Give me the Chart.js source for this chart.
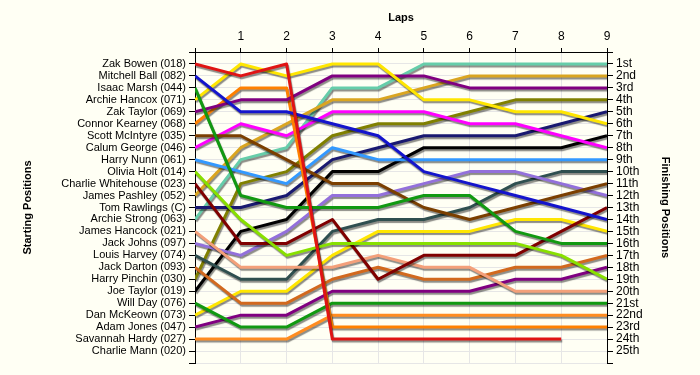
<!DOCTYPE html>
<html>
<head>
<meta charset="utf-8">
<script src="https://cdn.jsdelivr.net/npm/chart.js@4"></script>
<style>
  html, body { margin: 0; padding: 0; background: #FFFFF4; }
  #wrap { width: 700px; height: 375px; }
</style>
</head>
<body>
<div id="wrap"><canvas id="lapChart" width="700" height="375"></canvas></div>
<script>
// Riders in starting order (left axis labels)
const riders = [
    'Zak Bowen (018)', 'Mitchell Ball (082)', 'Isaac Marsh (044)', 'Archie Hancox (071)',
    'Zak Taylor (069)', 'Connor Kearney (068)', 'Scott McIntyre (035)', 'Calum George (046)',
    'Harry Nunn (061)', 'Olivia Holt (014)', 'Charlie Whitehouse (023)', 'James Pashley (052)',
    'Tom Rawlings (C)', 'Archie Strong (063)', 'James Hancock (021)', 'Jack Johns (097)',
    'Louis Harvey (074)', 'Jack Darton (093)', 'Harry Pinchin (030)', 'Joe Taylor (019)',
    'Will Day (076)', 'Dan McKeown (073)', 'Adam Jones (047)', 'Savannah Hardy (027)',
    'Charlie Mann (020)'
];

const finishLabels = [
    '1st', '2nd', '3rd', '4th', '5th', '6th', '7th', '8th', '9th', '10th',
    '11th', '12th', '13th', '14th', '15th', '16th', '17th', '18th', '19th', '20th',
    '21st', '22nd', '23rd', '24th', '25th'
];

const laps = [0, 1, 2, 3, 4, 5, 6, 7, 8, 9];

// position at lap 0..9 for each rider
const zakBowen        = [1, 2, 1, 24, 24, 24, 24, 24, 24, null];
const mitchellBall    = [2, 5, 5, 6, 7, 10, 11, 12, 13, 14];
const isaacMarsh      = [3, 12, 13, 13, 13, 12, 12, 15, 16, 16];
const archieHancox    = [4, 1, 2, 1, 1, 4, 4, 5, 5, 6];
const zakTaylor       = [5, 4, 4, 2, 2, 2, 3, 3, 3, 3];
const connorKearney   = [6, 3, 3, 23, 23, 23, 23, 23, 23, 23];
const scottMcIntyre   = [7, 7, 9, 11, 11, 13, 14, 13, 12, 11];
const calumGeorge     = [8, 6, 7, 5, 5, 5, 6, 6, 7, 8];
const harryNunn       = [9, 10, 11, 8, 9, 9, 9, 9, 9, 9];
const oliviaHolt      = [10, 14, 17, 16, 16, 16, 16, 16, 17, 19];
const charlieWhite    = [11, 16, 16, 14, 19, 17, 17, 17, 15, 13];
const jamesPashley    = [12, 8, 6, 4, 4, 3, 2, 2, 2, 2];
const tomRawlings     = [13, 13, 12, 9, 8, 7, 7, 7, 6, 5];
const archieStrong    = [14, 9, 8, 3, 3, 1, 1, 1, 1, 1];
const jamesHancock    = [15, 18, 18, 18, 17, 18, 18, 20, 20, 20];
const jackJohns       = [16, 17, 15, 12, 12, 11, 10, 10, 11, 12];
const louisHarvey     = [17, 19, 19, 15, 14, 14, 13, 11, 10, 10];
const jackDarton      = [18, 21, 21, 19, 18, 19, 19, 18, 18, 17];
const harryPinchin    = [19, 11, 10, 7, 6, 6, 5, 4, 4, 4];
const joeTaylor       = [20, 15, 14, 10, 10, 8, 8, 8, 8, 7];
const willDay         = [21, 23, 23, 21, 21, 21, 21, 21, 21, 21];
const danMcKeown      = [22, 20, 20, 17, 15, 15, 15, 14, 14, 15];
const adamJones       = [23, 22, 22, 20, 20, 20, 20, 19, 19, 18];
const savannahHardy   = [24, 24, 24, 22, 22, 22, 22, 22, 22, 22];
const charlieMann     = [25, null, null, null, null, null, null, null, null, null];

const series = [
    zakBowen, mitchellBall, isaacMarsh, archieHancox, zakTaylor, connorKearney,
    scottMcIntyre, calumGeorge, harryNunn, oliviaHolt, charlieWhite, jamesPashley,
    tomRawlings, archieStrong, jamesHancock, jackJohns, louisHarvey, jackDarton,
    harryPinchin, joeTaylor, willDay, danMcKeown, adamJones, savannahHardy, charlieMann
];

const colors = [
    '#E01414', '#1414CC', '#119911', '#FFE600', '#800080', '#FF8000',
    '#7B3F00', '#FF00FF', '#3399FF', '#88E000', '#800000', '#DAA520',
    '#191970', '#66CDAA', '#F4A07A', '#9370DB', '#2F4F4F', '#D2691E',
    '#808000', '#000000', '#119911', '#FFE600', '#800080', '#FF8C20', '#999999'
];

// soft drop shadow under every line
const lineShadow = {
    id: 'lineShadow',
    beforeDatasetDraw(chart) {
        const ctx = chart.ctx;
        ctx.save();
        ctx.shadowColor = 'rgba(0,0,0,0.45)';
        ctx.shadowOffsetX = 1;
        ctx.shadowOffsetY = 2;
        ctx.shadowBlur = 1;
    },
    afterDatasetDraw(chart) {
        chart.ctx.restore();
    }
};

const bg = {
    id: 'bg',
    beforeDraw(chart) {
        const ctx = chart.ctx;
        ctx.save();
        ctx.fillStyle = '#FFFFF4';
        ctx.fillRect(0, 0, chart.width, chart.height);
        ctx.restore();
    }
};

const tickFont = { family: 'Liberation Sans', size: 11 };
const titleFont = { family: 'Liberation Sans', size: 11, weight: 'bold' };
const gridColor = '#E6E6E6';

const datasets = series.map((vals, i) => ({
    label: riders[i],
    data: vals.map((v, k) => ({ x: laps[k], y: v })),
    borderColor: colors[i],
    backgroundColor: colors[i],
    borderWidth: 3,
    pointRadius: 0,
    tension: 0,
    fill: false,
    spanGaps: false,
    borderJoinStyle: 'round'
}));

new Chart(document.getElementById('lapChart'), {
    type: 'line',
    data: { datasets },
    plugins: [bg, lineShadow],
    options: {
        responsive: false,
        animation: false,
        layout: { padding: { left: 0, right: 0, top: 0, bottom: 12 } },
        plugins: {
            legend: { display: false },
            tooltip: { enabled: false }
        },
        scales: {
            x: {
                type: 'linear',
                position: 'top',
                min: 0,
                max: 9,
                afterFit: s => { s.height = 52; },
                ticks: {
                    stepSize: 1,
                    autoSkip: false,
                    padding: 4,
                    color: '#000',
                    font: { family: 'Liberation Sans', size: 12 },
                    callback: v => v === 0 ? '' : v
                },
                grid: { color: gridColor, tickColor: '#000', tickLength: 4 },
                border: { color: '#000', width: 1 },
                title: { display: true, text: 'Laps', color: '#000', font: titleFont, padding: { top: 11, bottom: 0 } }
            },
            y: {
                type: 'linear',
                position: 'left',
                reverse: true,
                min: 0,
                max: 26,
                afterFit: s => { s.width = 195; },
                ticks: {
                    stepSize: 1,
                    autoSkip: false,
                    padding: 3,
                    color: '#000',
                    font: tickFont,
                    callback: v => riders[v - 1] || ''
                },
                grid: { color: gridColor, tickColor: '#000', tickLength: 6 },
                border: { color: '#000', width: 1 },
                title: { display: true, text: 'Starting Positions', color: '#000', font: titleFont, padding: { top: 21, bottom: 0 } }
            },
            y2: {
                type: 'linear',
                position: 'right',
                reverse: true,
                min: 0,
                max: 26,
                afterFit: s => { s.width = 93; },
                ticks: {
                    stepSize: 1,
                    autoSkip: false,
                    padding: 3,
                    color: '#000',
                    font: { family: 'Liberation Sans', size: 12 },
                    callback: v => finishLabels[v - 1] || ''
                },
                grid: { drawOnChartArea: false, color: '#000', tickLength: 6 },
                border: { color: '#000', width: 1 },
                title: { display: true, text: 'Finishing Positions', color: '#000', font: titleFont, padding: { top: 28, bottom: 0 } }
            }
        }
    }
});
</script>
</body>
</html>
